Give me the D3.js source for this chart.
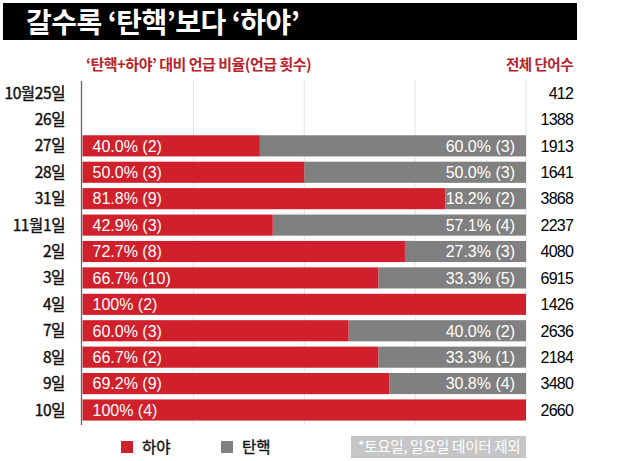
<!DOCTYPE html>
<html><head><meta charset="utf-8">
<script src="https://cdn.jsdelivr.net/npm/d3@7"></script>
<style>
body{margin:0;background:#fff;}
svg{display:block;font-family:"Noto Sans CJK KR","Noto Sans",sans-serif;}
</style></head><body>
<script>
const dates = ["10월25일","26일","27일","28일","31일","11월1일","2일","3일","4일","7일","8일","9일","10일"];
const hayaCount = [null,null,2,3,9,3,8,10,2,3,2,9,4];
const tanCount  = [null,null,3,3,2,4,3,5,0,2,1,4,0];
const hayaPct   = [null,null,40.0,50.0,81.8,42.9,72.7,66.7,100,60.0,66.7,69.2,100];
const tanPct    = [null,null,60.0,50.0,18.2,57.1,27.3,33.3,0,40.0,33.3,30.8,0];
const totalWords = [412,1388,1913,1641,3868,2237,4080,6915,1426,2636,2184,3480,2660];
const xTicks = [0,25,50,75,100];

const W=620,H=461;
const RED="#d0202b", GRAY="#808080", DARKRED="#b8232a";
const svg=d3.select("body").append("svg").attr("width",W).attr("height",H);

// title bar
svg.append("rect").attr("x",3).attr("y",3).attr("width",574).attr("height",37).attr("fill","#000");
svg.append("text").attr("x",26).attr("y",33).attr("fill","#fff")
  .attr("font-size",28).attr("font-weight",700).attr("letter-spacing",-0.5)
  .text("갈수록 ‘탄핵’보다 ‘하야’");

// subtitles
svg.append("text").attr("x",86).attr("y",70).attr("fill",DARKRED)
  .attr("font-size",15).attr("font-weight",700).attr("letter-spacing",-0.5)
  .text("‘탄핵+하야’ 대비 언급 비율(언급 횟수)");
svg.append("text").attr("x",573).attr("y",70).attr("fill",DARKRED).attr("text-anchor","end")
  .attr("font-size",14.5).attr("font-weight",700).attr("letter-spacing",-0.5)
  .text("전체 단어수");

const x=d3.scaleLinear().domain([0,100]).range([82.5,526]);
const y=d3.scaleBand().domain(dates).range([79.8,423.2]).paddingInner(0.2).paddingOuter(0.1);

// gridlines
svg.append("g").selectAll("line").data(xTicks.slice(1)).join("line")
  .attr("x1",d=>x(d)).attr("x2",d=>x(d)).attr("y1",80).attr("y2",425)
  .attr("stroke","#e4e4e4").attr("stroke-width",1);

const rows=dates.map((d,i)=>({d,i,hp:hayaPct[i],tp:tanPct[i],hc:hayaCount[i],tc:tanCount[i],tw:totalWords[i]}));
const fmt=v=>v===100?"100%":d3.format(".1f")(v)+"%";

const g=svg.append("g");
const dataRows=rows.filter(r=>r.hp!==null);
g.selectAll("rect.t").data(dataRows.filter(r=>r.tp>0)).join("rect").attr("class","t")
  .attr("x",r=>x(r.hp)).attr("width",r=>x(100)-x(r.hp))
  .attr("y",r=>y(r.d)).attr("height",y.bandwidth()).attr("fill",GRAY);
g.selectAll("rect.h").data(dataRows).join("rect").attr("class","h")
  .attr("x",x(0)).attr("width",r=>x(r.hp)-x(0))
  .attr("y",r=>y(r.d)).attr("height",y.bandwidth()).attr("fill",RED);

g.selectAll("text.hl").data(dataRows).join("text").attr("class","hl")
  .attr("x",x(0)+10).attr("y",r=>y(r.d)+y.bandwidth()/2).attr("dy","0.36em")
  .attr("fill","#fff").attr("font-size",16).attr("font-family","Liberation Sans, Arial, sans-serif")
  .text(r=>fmt(r.hp)+" ("+r.hc+")");
g.selectAll("text.tl").data(dataRows.filter(r=>r.tp>0)).join("text").attr("class","tl")
  .attr("x",x(100)-11).attr("y",r=>y(r.d)+y.bandwidth()/2).attr("dy","0.36em").attr("text-anchor","end")
  .attr("fill","#fff").attr("font-size",16).attr("font-family","Liberation Sans, Arial, sans-serif")
  .text(r=>fmt(r.tp)+" ("+r.tc+")");

// axis line
svg.append("line").attr("x1",81.5).attr("x2",81.5).attr("y1",81).attr("y2",425)
  .attr("stroke","#666").attr("stroke-width",1.3);

// day labels
svg.append("g").selectAll("text").data(rows).join("text")
  .attr("x",65).attr("y",r=>y(r.d)+y.bandwidth()/2).attr("dy","0.36em").attr("text-anchor","end")
  .attr("font-size",15.5).attr("letter-spacing",-0.4).attr("fill","#111")
  .attr("stroke","#111").attr("stroke-width",0.4)
  .text(r=>r.d);

// total words
svg.append("g").selectAll("text").data(rows).join("text")
  .attr("x",573).attr("y",r=>y(r.d)+y.bandwidth()/2).attr("dy","0.36em").attr("text-anchor","end")
  .attr("font-size",16).attr("letter-spacing",-0.8).attr("fill","#000")
  .attr("font-family","Liberation Sans, Arial, sans-serif")
  .text(r=>r.tw);

// legend
const leg=[{k:"하야",c:RED,x:121},{k:"탄핵",c:GRAY,x:221}];
const lg=svg.append("g").selectAll("g").data(leg).join("g").attr("transform",d=>`translate(${d.x},441)`);
lg.append("rect").attr("width",12).attr("height",12).attr("fill",d=>d.c);
lg.append("text").attr("x",21).attr("y",6).attr("dy","0.38em").attr("font-size",15.5)
  .attr("fill","#111").attr("stroke","#111").attr("stroke-width",0.4).text(d=>d.k);

// note box
svg.append("rect").attr("x",351).attr("y",436).attr("width",175).attr("height",22).attr("fill","#c6c6c6");
svg.append("text").attr("x",439).attr("y",447).attr("dy","0.36em").attr("text-anchor","middle")
  .attr("fill","#fff").attr("font-size",14.5).attr("letter-spacing",-0.3).text("*토요일, 일요일 데이터 제외");
</script>
</body></html>
